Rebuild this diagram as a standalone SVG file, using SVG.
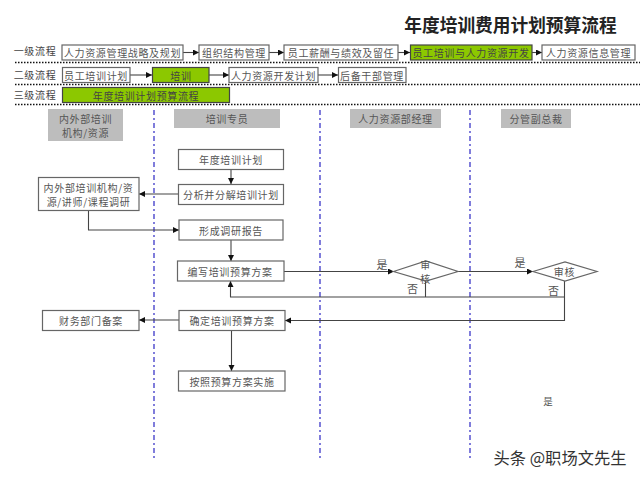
<svg xmlns="http://www.w3.org/2000/svg" width="640" height="480" viewBox="0 0 640 480">
<style>
text{font-family:"Noto Sans CJK SC","Liberation Sans",sans-serif;font-size:10px;letter-spacing:.65px;fill:#555;text-anchor:middle;dominant-baseline:central}
.b{fill:#fff;stroke:#666;stroke-width:1.2}
.g{fill:#8cc800;stroke:#444;stroke-width:1.2}
.h{fill:#bdbdbd}
.c{fill:none;stroke:#444;stroke-width:1.1}
.a{marker-end:url(#m)}
.dot{stroke:#111;stroke-width:1.4;stroke-dasharray:1.5 1.5;fill:none}
.lane{stroke:#3c38c8;stroke-width:1.3;stroke-dasharray:5 3 2 3;fill:none}
.l{font-size:11px;letter-spacing:0}
</style>
<defs><marker id="m" markerUnits="userSpaceOnUse" markerWidth="7" markerHeight="7" refX="6" refY="3" orient="auto"><path d="M0 0L6 3L0 6Z" fill="#111"/></marker></defs>
<rect width="640" height="480" fill="#fff"/>
<text x="510.500" y="24" style="font-size:17.700px;font-weight:700;fill:#222;letter-spacing:0">年度培训费用计划预算流程</text>
<g id="levels">
<text x="35" y="50" style="fill:#444">一级流程</text>
<text x="35" y="74" style="fill:#444">二级流程</text>
<text x="35" y="94.500" style="fill:#444">三级流程</text>
<path class="dot" d="M15 62.500H640M15 84.500H640M15 104.500H640"/>
<path class="lane" d="M154 110V458M320 110V458M470 110V458"/>
</g>
<g id="connectors">
<path class="c a" d="M183 52.500H199"/><path class="c a" d="M269 52.500H284"/><path class="c a" d="M398 52.500H410"/><path class="c a" d="M532 52.500H542"/>
<path class="c a" d="M130 75H152"/><path class="c a" d="M209 75H229"/><path class="c a" d="M318 75H338"/>
<path class="c a" d="M231 169V184"/>
<path class="c a" d="M178 194H139"/>
<path class="c a" d="M88.500 210V230H179"/>
<path class="c a" d="M231 240V261"/>
<path class="c a" d="M284 271.500H394"/>
<path class="c a" d="M458 271.500H533"/>
<path class="c" d="M425.500 281V297"/>
<path class="c a" d="M564.500 297H230.500V281"/>
<path class="c a" d="M564.500 281V320.500H285"/>
<path class="c a" d="M179 320H139"/>
<path class="c a" d="M231.500 330V371"/>
</g>
<g id="n1"><rect class="b" x="62" y="45" width="121" height="15"/><text x="122.500" y="52.500">人力资源管理战略及规划</text></g>
<g id="n2"><rect class="b" x="199" y="45" width="70" height="15"/><text x="234" y="52.500">组织结构管理</text></g>
<g id="n3"><rect class="b" x="284" y="45" width="114" height="15"/><text x="341" y="52.500">员工薪酬与绩效及留任</text></g>
<g id="n4"><rect class="g" x="410.500" y="45" width="121.500" height="15"/><text x="471" y="52.500" style="fill:#444">员工培训与人力资源开发</text></g>
<g id="n5"><rect class="b" x="542" y="45" width="93" height="15"/><text x="588.500" y="52.500">人力资源信息管理</text></g>
<g id="n6"><rect class="b" x="62.500" y="67.500" width="67.500" height="15"/><text x="96" y="75">员工培训计划</text></g>
<g id="n7"><rect class="g" x="152.500" y="67.500" width="56.500" height="15"/><text x="181" y="75" style="fill:#444">培训</text></g>
<g id="n8"><rect class="b" x="229" y="67.500" width="89" height="15"/><text x="273.500" y="75">人力资源开发计划</text></g>
<g id="n9"><rect class="b" x="338.500" y="67.500" width="67.500" height="15"/><text x="372" y="75">后备干部管理</text></g>
<g id="n10"><rect class="g" x="62.500" y="87.500" width="167" height="15"/><text x="146" y="95" style="fill:#444">年度培训计划预算流程</text></g>
<g id="h1"><rect class="h" x="48" y="109" width="75" height="32"/><text x="85.500" y="118">内外部培训</text><text x="85.500" y="132">机构/资源</text></g>
<g id="h2"><rect class="h" x="174" y="109" width="106" height="19"/><text x="227" y="118.500">培训专员</text></g>
<g id="h3"><rect class="h" x="350" y="109" width="91" height="19"/><text x="395.500" y="118.500">人力资源部经理</text></g>
<g id="h4"><rect class="h" x="501" y="109" width="70" height="19"/><text x="536" y="118.500">分管副总裁</text></g>
<g id="b1"><rect class="b" x="178.500" y="149.500" width="105" height="20"/><text x="231" y="159.500">年度培训计划</text></g>
<g id="b2"><rect class="b" x="178.500" y="184.500" width="105" height="20"/><text x="231" y="194.500">分析并分解培训计划</text></g>
<g id="b3"><rect class="b" x="38.500" y="177.500" width="100.500" height="33"/><text x="88.500" y="187.500">内外部培训机构/资</text><text x="88.500" y="201.500">源/讲师/课程调研</text></g>
<g id="b4"><rect class="b" x="179" y="220" width="104" height="20"/><text x="231" y="230">形成调研报告</text></g>
<g id="b5"><rect class="b" x="177.500" y="261" width="106.500" height="20"/><text x="230" y="271">编写培训预算方案</text></g>
<g id="b6"><rect class="b" x="179" y="310.500" width="106" height="20"/><text x="232" y="320.500">确定培训预算方案</text></g>
<g id="b7"><rect class="b" x="178.500" y="371" width="106.500" height="20"/><text x="232" y="381">按照预算方案实施</text></g>
<g id="b8"><rect class="b" x="42.500" y="310.500" width="96.500" height="20"/><text x="91" y="320.500">财务部门备案</text></g>
<g id="d1"><polygon class="b" points="393.500,271.500 426,261 458,271.500 426,281"/><text x="425.500" y="264.500">审</text><text x="425.500" y="278">核</text></g>
<g id="d2"><polygon class="b" points="533,271.500 565,262 597,271.500 565,281"/><text x="564.500" y="271.500">审核</text></g>
<text class="l" x="382" y="264">是</text>
<text class="l" x="520" y="262">是</text>
<text class="l" x="412.500" y="288">否</text>
<text class="l" x="553.500" y="290">否</text>
<text x="548" y="401" style="font-size:9.500px;letter-spacing:0">是</text>
<text x="560" y="457" style="font-size:16.300px;fill:#333;letter-spacing:0">头条 @职场文先生</text>
</svg>
